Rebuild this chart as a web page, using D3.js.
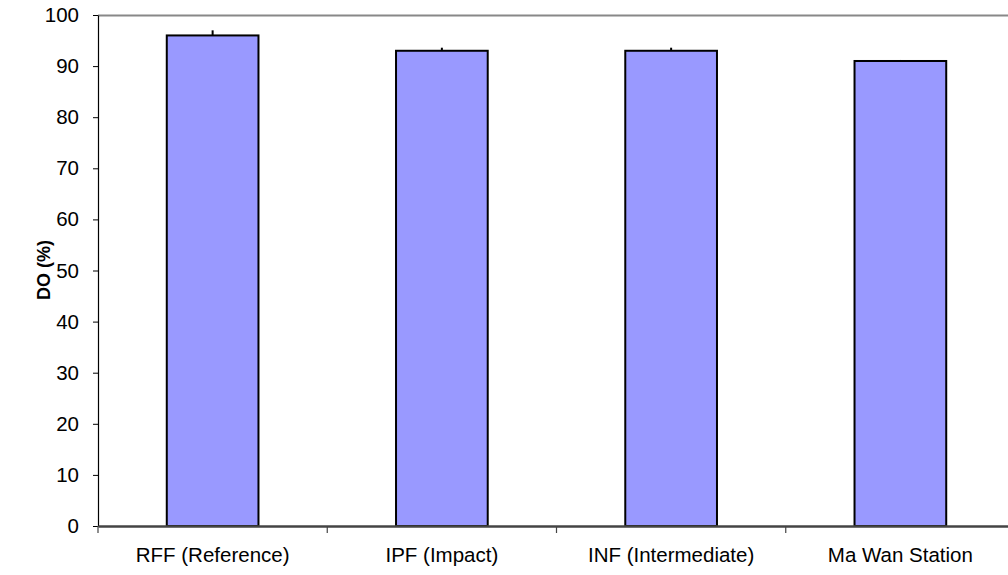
<!DOCTYPE html>
<html><head><meta charset="utf-8">
<script src="https://cdn.jsdelivr.net/npm/d3@7"></script>
<style>body{margin:0;background:#fff;}svg{display:block;font-family:Arial,"Liberation Sans",sans-serif;}</style>
</head><body>
<svg id="c" width="1008" height="575"></svg>
<script>
const categories = ["RFF (Reference)", "IPF (Impact)", "INF (Intermediate)", "Ma Wan Station"];
const values = [96, 93, 93, 91];
const errors = [1.0, 0.6, 0.6, 0.2];
const yTicks = [0,10,20,30,40,50,60,70,80,90,100];

const svg = d3.select("#c");
const mLeft = 98, mRight = 1015, mTop = 15, mBottom = 526;
const x = d3.scaleBand().domain(categories).range([mLeft, mRight]).paddingInner(0).paddingOuter(0);
const y = d3.scaleLinear().domain([0,100]).range([mBottom, mTop]);
const bw = x.bandwidth()*0.4;

// top border
svg.append("line").attr("x1",mLeft).attr("x2",1008).attr("y1",y(100)+0.5).attr("y2",y(100)+0.5)
  .attr("stroke","#888").attr("stroke-width",2);

// bars
svg.selectAll("rect.bar").data(categories).enter().append("rect")
  .attr("x",d=>x(d)+x.bandwidth()/2-bw/2).attr("width",bw)
  .attr("y",(d,i)=>y(values[i])).attr("height",(d,i)=>mBottom-y(values[i]))
  .attr("fill","#9999FF").attr("stroke","#000").attr("stroke-width",2);

// error bars
svg.selectAll("line.err").data(categories).enter().append("line")
  .attr("x1",d=>x(d)+x.bandwidth()/2).attr("x2",d=>x(d)+x.bandwidth()/2)
  .attr("y1",(d,i)=>y(values[i])).attr("y2",(d,i)=>y(values[i]+errors[i]))
  .attr("stroke","#000").attr("stroke-width",2);

// y axis
const ya = svg.append("g").attr("transform",`translate(${mLeft},0)`)
  .call(d3.axisLeft(y).tickValues(yTicks).tickSize(5).tickPadding(14).tickSizeOuter(0));
ya.select(".domain").attr("stroke","#000").attr("stroke-width",1.2);
ya.selectAll(".tick line").attr("stroke","#000");
ya.selectAll("text").attr("font-size",20.5).attr("fill","#000").attr("font-family","Arial, 'Liberation Sans', sans-serif");

// x axis
const xa = svg.append("g").attr("transform",`translate(0,${mBottom})`)
  .call(d3.axisBottom(x).tickSize(0).tickPadding(21));
xa.select(".domain").attr("stroke","#444").attr("stroke-width",2.5);
xa.selectAll("text").attr("font-size",20.5).attr("fill","#000").attr("font-family","Arial, 'Liberation Sans', sans-serif");
// category boundary ticks
svg.selectAll("line.xt").data(categories).enter().append("line")
  .attr("x1",d=>x(d)).attr("x2",d=>x(d)).attr("y1",mBottom).attr("y2",mBottom+7)
  .attr("stroke","#444").attr("stroke-width",1.2);

// y title
svg.append("text").attr("transform","translate(50,270) rotate(-90)")
  .attr("text-anchor","middle").attr("font-size",18).attr("font-weight","bold")
  .text("DO (%)");
</script>
</body></html>
